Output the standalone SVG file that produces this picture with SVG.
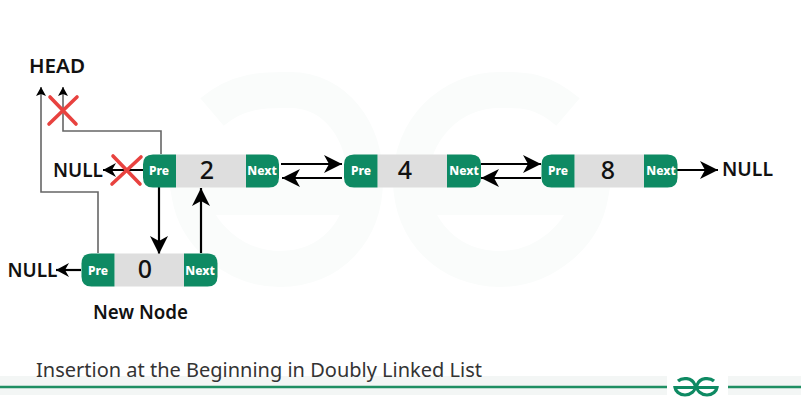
<svg xmlns="http://www.w3.org/2000/svg" width="801" height="401" viewBox="0 0 801 401">
<style>
text{font-family:"Noto Sans","Open Sans","Liberation Sans",sans-serif}
.lab{font-size:19px;font-weight:600;fill:#111}
.val{font-size:25px;font-weight:500;fill:#111;text-anchor:middle}
.tag{font-size:12px;font-weight:800;fill:#fff;text-anchor:middle}
.body{fill:#dedede}
.end{fill:#0e8a63}
.con{fill:none;stroke:#000;stroke-width:2.2}
.gray{fill:none;stroke:#666;stroke-width:1.6}
.x{stroke:#e8423f;stroke-width:3.6;stroke-linecap:round}
.wm{fill:none;stroke:#fafcfb;stroke-width:36}
</style>
<defs>
<marker id="big" markerUnits="userSpaceOnUse" markerWidth="20" markerHeight="20" refX="18" refY="9" orient="auto"><path d="M0 0L18 9L0 18L5 9Z" fill="#000"/></marker>
<marker id="mid" markerUnits="userSpaceOnUse" markerWidth="16" markerHeight="16" refX="13" refY="7" orient="auto"><path d="M0 0L13 7L0 14L4 7Z" fill="#000"/></marker>
<marker id="small" markerUnits="userSpaceOnUse" markerWidth="12" markerHeight="12" refX="9" refY="5" orient="auto"><path d="M0 0L9 5L0 10L2 5Z" fill="#000"/></marker>
</defs>
<rect width="801" height="401" fill="#fff"/>
<g id="watermark">
<path class="wm" d="M212 112C240 88 270 90 290 90C335 90 365 130 365 180C365 232 330 269 280 269C235 269 197 235 190 197H365"/>
<path class="wm" d="M568 112C540 88 520 90 500 90C450 90 411 130 411 180C411 232 450 269 500 269C545 269 583 235 590 197H411"/>
</g>
<g id="footer">
<rect x="0" y="376" width="667" height="19" fill="#f3f6f5"/>
<rect x="728" y="376" width="73" height="19" fill="#f3f6f5"/>
<path d="M0 387H667M728 387H801" stroke="#1f8f63" stroke-width="2.6"/>
<path d="M678 381C682 377.500 692 377 695 385C696.500 391 690 395 685 395C679 395 675.500 391 675 387.500H696" fill="none" stroke="#0e8a63" stroke-width="3.200"/>
<path d="M714 381C710 377.500 700 377 697 385C695.500 391 702 395 707 395C713 395 716.500 391 717 387.500H696" fill="none" stroke="#0e8a63" stroke-width="3.200"/>
<text id="caption" x="36" y="377" font-size="20" fill="#333" textLength="446" lengthAdjust="spacingAndGlyphs">Insertion at the Beginning in Doubly Linked List</text>
</g>
<g id="connectors">
<path class="gray" d="M98 253V192H41V87" marker-end="url(#small)"/>
<path class="gray" d="M161 154V131H63V87" marker-end="url(#small)"/>
<path class="con" d="M143 170H103" marker-end="url(#mid)"/>
<path class="con" d="M81 270H56" marker-end="url(#mid)"/>
<path class="con" d="M159 187V254" marker-end="url(#big)"/>
<path class="con" d="M201 253V188" marker-end="url(#big)"/>
<path class="con" d="M281 164H342" marker-end="url(#big)"/>
<path class="con" d="M342 178H282" marker-end="url(#big)"/>
<path class="con" d="M481 164H541" marker-end="url(#big)"/>
<path class="con" d="M541 178H481" marker-end="url(#big)"/>
<path class="con" d="M677 170H718" marker-end="url(#big)"/>
</g>
<g id="cross-head"><path class="x" d="M50 97L76 124M77 97L49 124"/></g>
<g id="cross-null"><path class="x" d="M113 156L140 184M141 157L112 184"/></g>
<g id="node-2">
<rect class="body" x="176" y="154.500" width="70" height="33"/>
<path class="end" d="M176 154.500H153Q143 154.500 143 164.500V177.500Q143 187.500 153 187.500H176Z"/>
<path class="end" d="M246 154.500H269Q279 154.500 279 164.500V177.500Q279 187.500 269 187.500H246Z"/>
<text class="tag" x="159" y="175">Pre</text><text class="val" x="207" y="179">2</text><text class="tag" x="262" y="175">Next</text>
</g>
<g id="node-4">
<rect class="body" x="377.500" y="154.500" width="70" height="33"/>
<path class="end" d="M377.500 154.500H354Q344 154.500 344 164.500V177.500Q344 187.500 354 187.500H377.500Z"/>
<path class="end" d="M447 154.500H471Q481 154.500 481 164.500V177.500Q481 187.500 471 187.500H447Z"/>
<text class="tag" x="361" y="175">Pre</text><text class="val" x="405" y="179">4</text><text class="tag" x="464" y="175">Next</text>
</g>
<g id="node-8">
<rect class="body" x="574.500" y="154.500" width="70" height="33"/>
<path class="end" d="M574.500 154.500H551.500Q541.500 154.500 541.500 164.500V177.500Q541.500 187.500 551.500 187.500H574.500Z"/>
<path class="end" d="M644 154.500H667.500Q677.500 154.500 677.500 164.500V177.500Q677.500 187.500 667.500 187.500H644Z"/>
<text class="tag" x="558" y="175">Pre</text><text class="val" x="608" y="179">8</text><text class="tag" x="661" y="175">Next</text>
</g>
<g id="node-0">
<rect class="body" x="114.500" y="253.500" width="70" height="33"/>
<path class="end" d="M114.500 253.500H91.500Q81.500 253.500 81.500 263.500V276.500Q81.500 286.500 91.500 286.500H114.500Z"/>
<path class="end" d="M184 253.500H207.500Q217.500 253.500 217.500 263.500V276.500Q217.500 286.500 207.500 286.500H184Z"/>
<text class="tag" x="98" y="274.500">Pre</text><text class="val" x="145" y="278">0</text><text class="tag" x="200" y="274.500">Next</text>
</g>
<g id="labels">
<text class="lab" x="29" y="73" textLength="56" lengthAdjust="spacingAndGlyphs">HEAD</text>
<text class="lab" x="53" y="176.500" textLength="50" lengthAdjust="spacingAndGlyphs">NULL</text>
<text class="lab" x="7.500" y="277" textLength="50" lengthAdjust="spacingAndGlyphs">NULL</text>
<text class="lab" x="722" y="176" textLength="51" lengthAdjust="spacingAndGlyphs">NULL</text>
<text class="lab" x="93" y="319" textLength="95" lengthAdjust="spacingAndGlyphs">New Node</text>
</g>
</svg>
